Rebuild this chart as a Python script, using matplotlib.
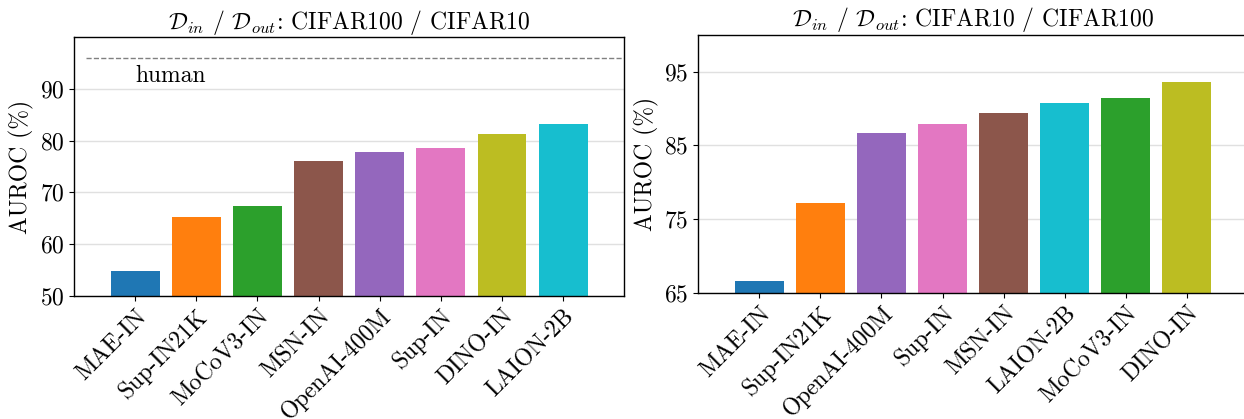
import matplotlib
matplotlib.use('Agg')
import matplotlib.pyplot as plt

plt.rcParams['font.family'] = 'serif'
plt.rcParams['font.serif'] = ['cmr10']
plt.rcParams['mathtext.fontset'] = 'cm'
plt.rcParams['axes.formatter.use_mathtext'] = True
plt.rcParams['font.size'] = 17

# couleur fixe par modèle
couleurs = {
    'MAE-IN': '#1f77b4',
    'Sup-IN21K': '#ff7f0e',
    'MoCoV3-IN': '#2ca02c',
    'MSN-IN': '#8c564b',
    'OpenAI-400M': '#9467bd',
    'Sup-IN': '#e377c2',
    'DINO-IN': '#bcbd22',
    'LAION-2B': '#17becf',
}

# CIFAR100 -> CIFAR10
modeles_g = ['MAE-IN', 'Sup-IN21K', 'MoCoV3-IN', 'MSN-IN', 'OpenAI-400M', 'Sup-IN', 'DINO-IN', 'LAION-2B']
auroc_g = [54.7, 65.2, 67.3, 76.0, 77.8, 78.6, 81.3, 83.2]
humain_g = 95.9

# CIFAR10 -> CIFAR100
modeles_d = ['MAE-IN', 'Sup-IN21K', 'OpenAI-400M', 'Sup-IN', 'MSN-IN', 'LAION-2B', 'MoCoV3-IN', 'DINO-IN']
auroc_d = [66.6, 77.2, 86.6, 87.9, 89.4, 90.7, 91.4, 93.6]

fig = plt.figure(figsize=(12.44, 4.19), dpi=100)
W, H = 1244, 419


def tracer_barres(ax, modeles, valeurs, titre, ymin, yticks):
    x = range(len(modeles))
    ax.bar(x, valeurs, width=0.8, color=[couleurs[m] for m in modeles], zorder=2)
    ax.set_xlim(-1, 8)
    ax.set_ylim(ymin, 100)
    ax.set_yticks(yticks)
    ax.set_xticks(list(x))
    ax.set_xticklabels(modeles, rotation=45, ha='right', rotation_mode='anchor')
    ax.yaxis.grid(True, color='#e0e0e0', lw=1, zorder=0)
    ax.set_axisbelow(True)
    ax.set_ylabel('AUROC (%)')
    ax.set_title(titre, fontsize=17)
    for s in ax.spines.values():
        s.set_linewidth(1.0)


ax1 = fig.add_axes([74 / W, 1 - 295.7 / H, 550.3 / W, 258.4 / H])
tracer_barres(ax1, modeles_g, auroc_g,
              r'$\mathcal{D}_{in}$ / $\mathcal{D}_{out}$: CIFAR100 / CIFAR10',
              50, [50, 60, 70, 80, 90])
ax1.plot([-0.8, 8], [humain_g, humain_g], ls='--', color='gray', lw=1.0, zorder=3)
ax1.text(0, 92.6, 'human', va='center', ha='left')

ax2 = fig.add_axes([698.3 / W, 1 - 292.7 / H, 549.5 / W, 258.0 / H])
tracer_barres(ax2, modeles_d, auroc_d,
              r'$\mathcal{D}_{in}$ / $\mathcal{D}_{out}$: CIFAR10 / CIFAR100',
              65, [65, 75, 85, 95])

fig.savefig('out.png', dpi=100)
